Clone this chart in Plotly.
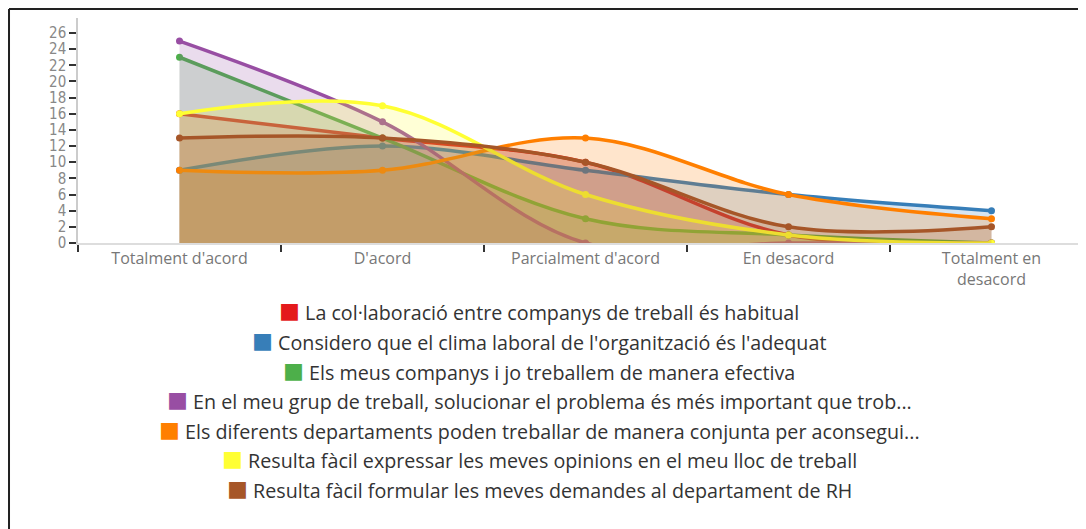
import plotly.graph_objects as go

# categories on the x axis
categories = ["Totalment d'acord", "D'acord", "Parcialment d'acord", "En desacord", "Totalment en<br>desacord"]

# one list of counts per statement
collaboracio = [16, 13, 10, 1, 0]
clima_laboral = [9, 12, 9, 6, 4]
treball_efectiu = [23, 13, 3, 1, 0]
grup_treball = [25, 15, 0, 0, 0]
departaments = [9, 9, 13, 6, 3]
expressar_opinions = [16, 17, 6, 1, 0]
demandes_rh = [13, 13, 10, 2, 2]

names = [
    "La col·laboració entre companys de treball és habitual",
    "Considero que el clima laboral de l'organització és l'adequat",
    "Els meus companys i jo treballem de manera efectiva",
    "En el meu grup de treball, solucionar el problema és més important que trob...",
    "Els diferents departaments poden treballar de manera conjunta per aconsegui...",
    "Resulta fàcil expressar les meves opinions en el meu lloc de treball",
    "Resulta fàcil formular les meves demandes al departament de RH",
]
series = [collaboracio, clima_laboral, treball_efectiu, grup_treball,
          departaments, expressar_opinions, demandes_rh]
colors = ["#e41a1c", "#377eb8", "#4daf4a", "#984ea3", "#ff7f00", "#ffff33", "#a65628"]


def rgba(hex_color, alpha):
    h = hex_color.lstrip('#')
    r, g, b = int(h[0:2], 16), int(h[2:4], 16), int(h[4:6], 16)
    return f'rgba({r},{g},{b},{alpha})'


# the page body adds 8px, so figure coords are page coords minus 8
OFF = 8
W, H = 1086 - OFF, 529 - OFF
L, T, R = 70, 10, 0
B = H - (243 - OFF)
plot_w = W - L - R
plot_h = H - T - B
cat_px = 203.0  # width of one category band

fig = go.Figure()
for name, vals, col in zip(names, series, colors):
    fig.add_trace(go.Scatter(
        x=categories, y=vals, name=name,
        mode='lines+markers',
        line=dict(color=col, width=3.5, shape='spline', smoothing=1),
        marker=dict(color=col, size=7),
        fill='tozeroy', fillcolor=rgba(col, 0.2),
        showlegend=False,
    ))

# legend rows, each centred like the original
row_px = [310.5, 340.5, 370.5, 399.5, 429.5, 459.5, 489.5]
for name, col, ypx in zip(names, colors, row_px):
    fig.add_annotation(
        xref='paper', yref='paper',
        x=(539 - OFF - L) / plot_w, y=(H - B - (ypx - OFF)) / plot_h,
        xanchor='center', yanchor='middle', showarrow=False,
        text=(f'<span style="color:{col};font-family:Noto Sans CJK SC;font-size:21px">■</span>'
              f' {name}'),
        font=dict(family='Open Sans', size=19.7, color='#333333'),
    )

# outer frame: only the left and top edges fall inside the window
fx0 = (8 - OFF - L) / plot_w + 0.001
fy1 = (H - B - (9 - OFF)) / plot_h
frame = dict(color='#222222', width=2)
fig.add_shape(type='line', xref='paper', yref='paper', x0=fx0, x1=fx0, y0=-1.4, y1=fy1,
              line=frame, layer='above')
fig.add_shape(type='line', xref='paper', yref='paper', x0=fx0, x1=1.0, y0=fy1, y1=fy1,
              line=frame, layer='above')

fig.update_layout(
    width=W, height=H,
    margin=dict(l=L, r=R, t=T, b=B),
    paper_bgcolor='white', plot_bgcolor='white',
    font=dict(family='Open Sans'),
    xaxis=dict(
        type='category', range=[-0.5, -0.5 + plot_w / cat_px],
        showgrid=False, zeroline=False,
        showline=True, linecolor='#dddddd', linewidth=1.5,
        tickson='boundaries', ticks='outside', ticklen=7, tickwidth=1.5, tickcolor='#333333',
        tickfont=dict(family='Open Sans', size=16, color='#777777'),
    ),
    yaxis=dict(
        range=[0, 27.86], dtick=2, tick0=0,
        showgrid=False, zeroline=False,
        showline=True, linecolor='#cccccc', linewidth=1.5,
        ticks='outside', ticklen=7, tickwidth=1.5, tickcolor='#333333',
        tickfont=dict(family='DejaVu Sans Condensed, Roboto', size=15, color='#888888'),
    ),
)

fig.write_html("out.html")
